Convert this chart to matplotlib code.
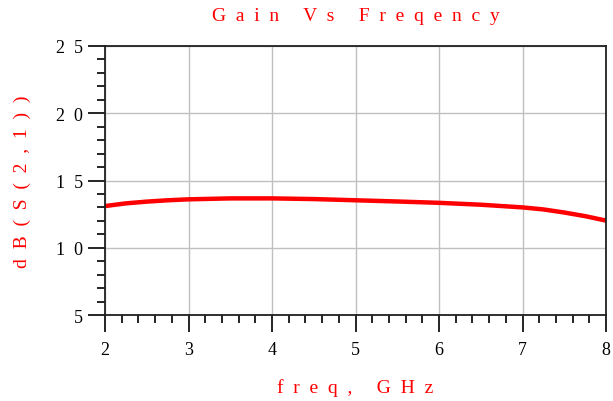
import numpy as np
import matplotlib.pyplot as plt
from matplotlib.ticker import MultipleLocator, FuncFormatter

# valores
freq = [2.0, 2.25, 2.5, 2.75, 3.0, 3.5, 4.0, 4.5, 5.0, 5.5, 6.0, 6.5, 7.0, 7.25, 7.5, 7.75, 8.0]
ganho = [13.1, 13.3, 13.43, 13.53, 13.6, 13.67, 13.67, 13.62, 13.53, 13.44, 13.34, 13.2, 13.0, 12.85, 12.62, 12.35, 12.02]

titulo = "Gain Vs Freqency"
rotulo_x = "freq, GHz"
rotulo_y = "dB(S(2,1))"

def espacar(s, n=2):
    # letras espacadas como no ADS
    palavras = s.split(" ")
    return (" " * (n + 3)).join((" " * n).join(p) for p in palavras)

fonte = "Liberation Serif"
vermelho = "#ff0000"

fig = plt.figure(figsize=(6.13, 4.02), dpi=100)
ax = fig.add_axes([0.1713, 0.2139, 0.8173, 0.6692])

ax.plot(freq, ganho, color=vermelho, linewidth=3.2, solid_capstyle="butt")

ax.set_xlim(2, 8)
ax.set_ylim(5, 25)
ax.xaxis.set_major_locator(MultipleLocator(1))
ax.xaxis.set_minor_locator(MultipleLocator(0.2))
ax.yaxis.set_major_locator(MultipleLocator(5))
ax.yaxis.set_minor_locator(MultipleLocator(1))
ax.yaxis.set_major_formatter(FuncFormatter(lambda v, p: espacar(str(int(v)))))
ax.xaxis.set_major_formatter(FuncFormatter(lambda v, p: str(int(v))))

ax.grid(True, which="major", color="#c0c0c0", linewidth=1.0)
ax.set_axisbelow(True)

ax.tick_params(axis="x", which="major", direction="out", length=12, width=1.2, color="black",
               labelsize=13, pad=7)
ax.tick_params(axis="y", which="major", direction="out", length=12, width=1.2, color="black",
               labelsize=13, pad=4)
ax.tick_params(which="minor", direction="out", length=6, width=1.2, color="black")
for lbl in ax.get_xticklabels() + ax.get_yticklabels():
    lbl.set_family(fonte)

for s in ax.spines.values():
    s.set_linewidth(1.3)
    s.set_color("#202020")

fig.text(0.58, 0.958, espacar(titulo), color=vermelho, fontsize=14,
         family=fonte, ha="center", va="center")
fig.text(0.58, 0.035, espacar(rotulo_x), color=vermelho, fontsize=14,
         family=fonte, ha="center", va="center")
fig.text(0.036, 0.547, espacar(rotulo_y), color=vermelho, fontsize=14,
         family=fonte, ha="center", va="center", rotation=90)

fig.savefig("out.png", dpi=100)
